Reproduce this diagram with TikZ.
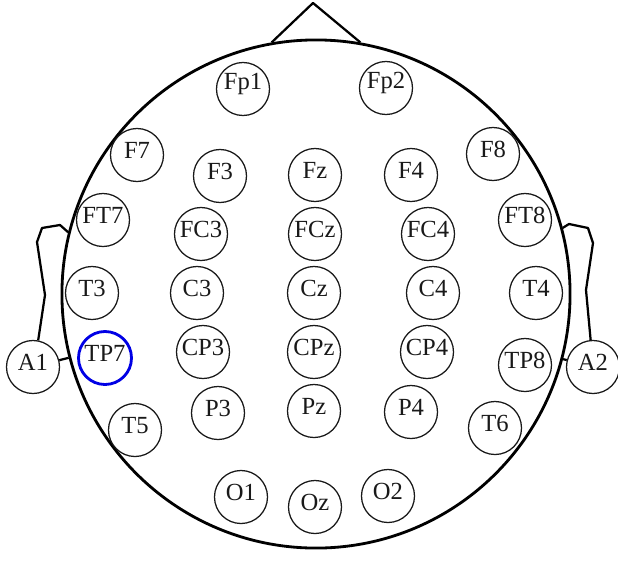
\documentclass[tikz,border=0pt]{standalone}
\usepackage{fontspec}
\setmainfont{Liberation Serif}
\colorlet{ink}{black!90}
\colorlet{hilite}{blue!90!black}
\tikzset{
  elec/.style={circle, draw=ink, line width=0.9pt, minimum size=1.325cm, inner sep=0pt, label={[etext]center:#1}},
  etext/.style={font=\fontsize{17.5}{20}\selectfont, text=ink, yshift=3.5pt, inner sep=0pt},
  scalp/.style={circle, draw=black, line width=2pt, minimum size=12.7cm, inner sep=0pt},
  earline/.style={line width=1.6pt, line join=round},
}

\begin{document}
\begin{tikzpicture}[x=0.025cm, y=-0.025cm]
\useasboundingbox (0,0) rectangle (618,560);
\node[scalp] (head) at (316,294) {};
\node[elec=Fp1] (Fp1) at (243,89) {};
\node[elec=Fp2] (Fp2) at (386,88) {};
\node[elec=F7] (F7) at (137,155) {};
\node[elec=F3] (F3) at (220,176) {};
\node[elec=Fz] (Fz) at (315,175) {};
\node[elec=F4] (F4) at (411,175) {};
\node[elec=F8] (F8) at (493,154) {};
\node[elec=FT7] (FT7) at (103,220) {};
\node[elec=FC3] (FC3) at (201,234) {};
\node[elec=FCz] (FCz) at (315,234) {};
\node[elec=FC4] (FC4) at (428,234) {};
\node[elec=FT8] (FT8) at (525,220) {};
\node[elec=T3] (T3) at (92,293) {};
\node[elec=C3] (C3) at (197,293) {};
\node[elec=Cz] (Cz) at (314,293) {};
\node[elec=C4] (C4) at (433,293) {};
\node[elec=T4] (T4) at (536,293) {};
\node[elec=TP7, draw=hilite, line width=2pt] (TP7) at (105,358) {};
\node[elec=CP3] (CP3) at (203,352) {};
\node[elec=CPz] (CPz) at (314,352) {};
\node[elec=CP4] (CP4) at (427,352) {};
\node[elec=TP8] (TP8) at (525,365) {};
\node[elec=T5] (T5) at (135,430) {};
\node[elec=P3] (P3) at (218,413) {};
\node[elec=Pz] (Pz) at (314,411) {};
\node[elec=P4] (P4) at (411,412) {};
\node[elec=T6] (T6) at (495,428) {};
\node[elec=O1] (O1) at (241,497) {};
\node[elec=Oz] (Oz) at (315,507) {};
\node[elec=O2] (O2) at (388,496) {};
\node[elec=A1] (A1) at (33,367) {};
\node[elec=A2] (A2) at (593,367) {};
% nose and ears
\draw[earline] (head.100) -- (313,3) -- (head.80);
\draw[earline] (head.166) -- (60,225) -- (42,228) -- (37,242) -- (45,295) -- (A1.79);
\draw[earline] (head.15) -- (569,224) -- (588,228) -- (593,243) -- (586,290) -- (A2.95);
\draw[earline] (A1) -- (head);
\draw[earline] (A2) -- (head);
\end{tikzpicture}
\end{document}
